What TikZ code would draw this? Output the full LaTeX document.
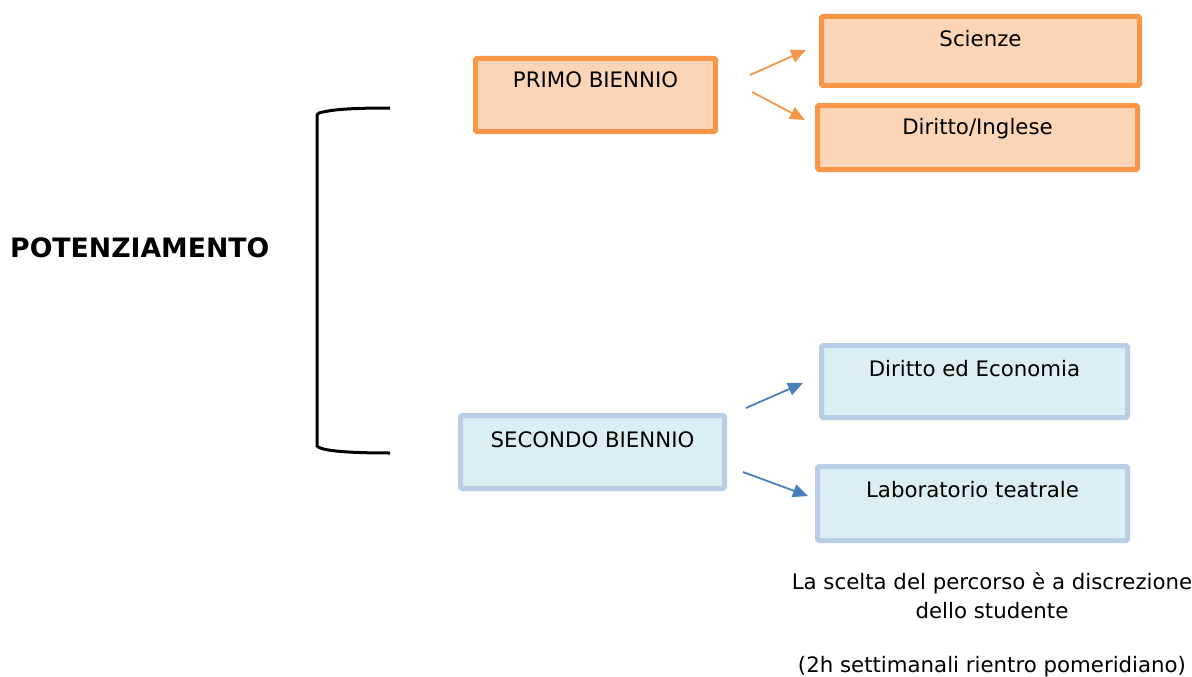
\documentclass[tikz,border=0pt]{standalone}
\usepackage{fontspec}
\setmainfont{DejaVu Sans}
\usetikzlibrary{arrows.meta}
\definecolor{oline}{HTML}{F79646}
\definecolor{ofill}{HTML}{FBD5B5}
\definecolor{bline}{HTML}{B9CDE5}
\definecolor{bfill}{HTML}{DBEEF4}
\definecolor{barrow}{HTML}{4A7EBB}
\begin{document}
\begin{tikzpicture}[x=1pt,y=-1pt,
  box/.style={draw, line width=5, rounded corners=1.5, anchor=north west, inner sep=0},
  obox/.style={box, draw=oline, fill=ofill},
  bbox/.style={box, draw=bline, fill=bfill},
  lbl/.style={anchor=base, font=\fontsize{21.3}{24}\selectfont, inner sep=0},
  oarr/.style={draw=oline, line width=1.8, -{Triangle[length=15,width=13]}},
  barr/.style={draw=barrow, line width=1.8, -{Triangle[length=15,width=13]}}
]
\useasboundingbox (0,0) rectangle (1192,677);
% title
\node[anchor=base west, inner sep=0, font=\fontsize{26.7}{30}\bfseries\selectfont] (title) at (10,257) {POTENZIAMENTO};
% bracket
\draw[line width=3] (390,108) .. controls (345,108) and (330,110) .. (319,113) -- (317,115) -- (317,446) .. controls (320,450) and (340,453) .. (390,453);
% boxes
\node[obox, minimum width=240, minimum height=73, label={[lbl, yshift=-32]north:PRIMO BIENNIO}] (primo) at (473,56) {};
\node[obox, minimum width=318, minimum height=69, label={[lbl, yshift=-33]north:Scienze}] (scienze) at (819,14) {};
\node[obox, minimum width=320, minimum height=64, label={[lbl, yshift=-31]north:Diritto/Inglese}] (diritto) at (815,103) {};
\node[bbox, minimum width=264, minimum height=73, label={[lbl, yshift=-34]north:SECONDO BIENNIO}] (secondo) at (458,413) {};
\node[bbox, minimum width=306, minimum height=72, label={[lbl, yshift=-33]north:Diritto ed Economia}] (econ) at (819,343) {};
\node[bbox, minimum width=310, minimum height=74, label={[lbl, yshift=-33]north:Laboratorio teatrale}] (lab) at (815,464) {};
% arrow end points
\coordinate (a1s) at (750,75);  \coordinate (a1e) at (806,50);
\coordinate (a2s) at (752,92);  \coordinate (a2e) at (805,120);
\coordinate (b1s) at (746,408); \coordinate (b1e) at (803,383);
\coordinate (b2s) at (743,472); \coordinate (b2e) at (808,496);
\draw[oarr] (a1s) -- (a1e);
\draw[oarr] (a2s) -- (a2e);
\draw[barr] (b1s) -- (b1e);
\draw[barr] (b2s) -- (b2e);
% note
\node[anchor=base, inner sep=0, align=center, font=\fontsize{21.3}{29}\selectfont] (note) at (992,672) {La scelta del percorso è a discrezione\\dello studente\\[25pt](2h settimanali rientro pomeridiano)};
\end{tikzpicture}
\end{document}
